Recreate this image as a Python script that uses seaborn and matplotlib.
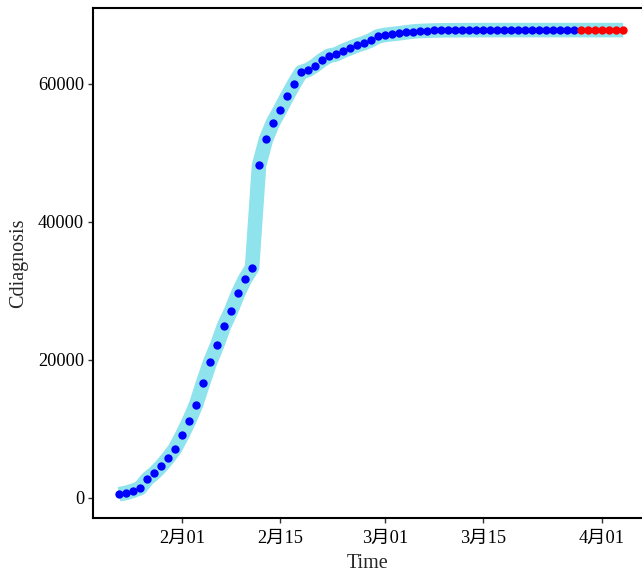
import matplotlib
matplotlib.use("Agg")
import matplotlib.pyplot as plt
import matplotlib.dates as mdates
import seaborn as sns
import pandas as pd
import numpy as np

# ---- data ----
obs_start = "2020-01-23"
observed = [549, 729, 1052, 1423, 2714, 3554, 4586, 5806, 7153, 9074,
            11177, 13522, 16678, 19665, 22112, 24953, 27100, 29631, 31728, 33366,
            48206, 51986, 54406, 56249, 58182, 59989, 61682, 62031, 62662, 63454,
            64084, 64287, 64786, 65187, 65596, 65914, 66337, 66907, 67103, 67217,
            67332, 67466, 67592, 67666, 67707, 67743, 67760, 67773, 67781, 67786,
            67790, 67794, 67798, 67799, 67800, 67800, 67800, 67800, 67800, 67800,
            67801, 67801, 67801, 67801, 67801, 67801]
pred_start = "2020-03-29"
predicted = [67801, 67801, 67801, 67801, 67801, 67801, 67801]

tick_dates = ["2020-02-01", "2020-02-15", "2020-03-01", "2020-03-15", "2020-04-01"]
tick_labels = ["2月01", "2月15", "3月01", "3月15", "4月01"]
y_ticks = [0, 20000, 40000, 60000]

obs_df = pd.DataFrame({"Time": pd.date_range(obs_start, periods=len(observed)),
                       "Cdiagnosis": observed})
pred_df = pd.DataFrame({"Time": pd.date_range(pred_start, periods=len(predicted)),
                        "Cdiagnosis": predicted})
all_df = pd.concat([obs_df, pred_df], ignore_index=True)

# ---- figure ----
sns.set_style("white")
plt.rcParams["font.family"] = ["Liberation Serif", "Noto Sans CJK SC"]

fig = plt.figure(figsize=(6.42, 5.76), dpi=100)
ax = fig.add_axes([0.145, 0.1007, 0.855, 0.8854])

sns.lineplot(data=all_df, x="Time", y="Cdiagnosis", ax=ax,
             color="#8FE3EC", linewidth=10.5, zorder=1)
for ln in ax.lines:
    ln.set_solid_capstyle("butt")
    ln.set_solid_joinstyle("round")

sns.scatterplot(data=obs_df, x="Time", y="Cdiagnosis", ax=ax, color="#0000FF",
                s=36, linewidth=0, zorder=3)
sns.scatterplot(data=pred_df, x="Time", y="Cdiagnosis", ax=ax, color="#FF0000",
                s=36, linewidth=0, zorder=3)

feb1 = mdates.date2num(pd.Timestamp("2020-02-01"))
apr1 = mdates.date2num(pd.Timestamp("2020-04-01"))
ax.set_xlim(feb1 - 12.71, apr1 + 5.71)
ax.set_ylim(-2900, 71000)

ax.set_xticks([mdates.date2num(pd.Timestamp(d)) for d in tick_dates])
ax.set_xticklabels(tick_labels)
ax.set_yticks(y_ticks)
ax.set_yticklabels([str(v) for v in y_ticks])

ax.tick_params(axis="both", which="major", direction="out", length=3.5,
               width=1.0, color="#333333", labelsize=13.2, labelcolor="black",
               bottom=True, left=True, pad=3)
ax.tick_params(axis="x", pad=5)

ax.set_xlabel("Time", fontsize=14.5, labelpad=5)
ax.set_ylabel("Cdiagnosis", fontsize=14.5, labelpad=7)

for side in ["left", "bottom", "top"]:
    ax.spines[side].set_visible(True)
    ax.spines[side].set_color("black")
    ax.spines[side].set_linewidth(1.5)
ax.spines["right"].set_visible(False)
ax.grid(False)

fig.savefig("out.png", dpi=100)
